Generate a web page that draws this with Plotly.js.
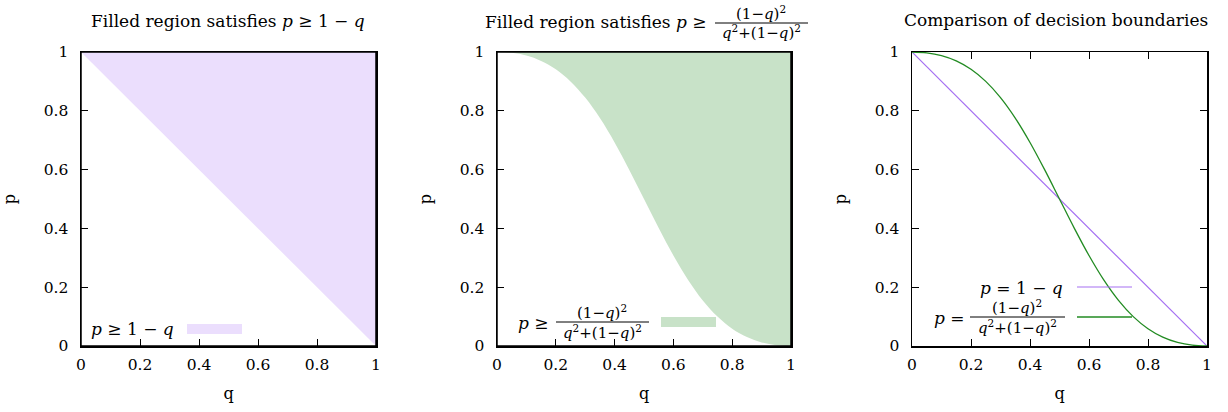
<!DOCTYPE html>
<html>
<head>
<meta charset="utf-8">
<script src="https://cdn.plot.ly/plotly-3.0.1.min.js"></script>
<style>html,body{margin:0;padding:0;background:#fff;}#chart{width:1228px;height:412px;}</style>
</head>
<body>
<div id="chart"></div>
<script>
// ---- data ----
const tickVals = [0, 0.2, 0.4, 0.6, 0.8, 1];
const tickText = ["0", "0.2", "0.4", "0.6", "0.8", "1"];
// linear boundary p = 1 - q
const qLinear = [0, 1];
const pLinear = [1, 0];
// curved boundary p = (1-q)^2 / (q^2 + (1-q)^2)
const qCurve = [0, 0.05, 0.10, 0.15, 0.20, 0.25, 0.30, 0.35, 0.40, 0.45, 0.50,
                0.55, 0.60, 0.65, 0.70, 0.75, 0.80, 0.85, 0.90, 0.95, 1.00];
const pCurve = [1, 0.99724, 0.98780, 0.96980, 0.94118, 0.9, 0.84483, 0.77523, 0.69231, 0.59901, 0.5,
                0.40099, 0.30769, 0.22477, 0.15517, 0.1, 0.05882, 0.03020, 0.01220, 0.00276, 0];
// upper edge of filled regions
const qTop = [0, 1];
const pTop = [1, 1];

// ---- styling ----
const W = 1228, H = 412;
const px = x => x / W;
const py = y => 1 - y / H;
const FONT = "DejaVu Serif, Liberation Serif, serif";
const purpleLine = "rgb(165,112,242)";
const purpleFill = "rgb(235,222,253)";
const greenLine = "rgb(34,139,34)";
const greenFill = "rgb(200,226,200)";
const TICK = 15.5, TITLE = 17, FRAC = 15;

function xAx(dom, anchor, layer) {
  return {
    domain: dom, anchor: anchor, range: [0, 1], tickvals: tickVals, ticktext: tickText,
    ticks: "inside", ticklen: 7, tickwidth: 1, tickcolor: "#000",
    showline: true, linecolor: "#000", linewidth: 1.5, mirror: "ticks",
    showgrid: false, zeroline: false, layer: layer, automargin: false, fixedrange: true,
    ticklabelstandoff: 4,
    tickfont: {family: FONT, size: TICK, color: "#000"},
    title: {text: "q", font: {family: FONT, size: 16, color: "#000"}, standoff: 14}
  };
}
function yAx(anchor, layer) {
  return {
    domain: [1 - 346 / H, 1 - 52 / H], anchor: anchor, range: [0, 1], tickvals: tickVals, ticktext: tickText,
    ticks: "inside", ticklen: 7, tickwidth: 1, tickcolor: "#000",
    showline: true, linecolor: "#000", linewidth: 1.5, mirror: "ticks",
    showgrid: false, zeroline: false, layer: layer, automargin: false, fixedrange: true,
    ticklabelstandoff: 8,
    tickfont: {family: FONT, size: TICK, color: "#000"},
    title: {text: "p", font: {family: FONT, size: 16, color: "#000"}, standoff: 24}
  };
}

const traces = [
  // panel 1
  {x: qLinear, y: pLinear, xaxis: "x", yaxis: "y", mode: "lines", line: {width: 0, color: "rgba(0,0,0,0)"}, hoverinfo: "skip"},
  {x: qTop, y: pTop, xaxis: "x", yaxis: "y", mode: "lines", line: {width: 0, color: "rgba(0,0,0,0)"}, fill: "tonexty", fillcolor: purpleFill, hoverinfo: "skip"},
  // panel 2
  {x: qCurve, y: pCurve, xaxis: "x2", yaxis: "y2", mode: "lines", line: {width: 0, shape: "spline", color: "rgba(0,0,0,0)"}, hoverinfo: "skip"},
  {x: qTop, y: pTop, xaxis: "x2", yaxis: "y2", mode: "lines", line: {width: 0, color: "rgba(0,0,0,0)"}, fill: "tonexty", fillcolor: greenFill, hoverinfo: "skip"},
  // panel 3
  {x: qLinear, y: pLinear, xaxis: "x3", yaxis: "y3", mode: "lines", line: {width: 1.2, color: purpleLine}, hoverinfo: "skip"},
  {x: qCurve, y: pCurve, xaxis: "x3", yaxis: "y3", mode: "lines", line: {width: 1.3, color: greenLine, shape: "spline"}, hoverinfo: "skip"}
];

function txt(text, x, y, size, xanchor) {
  return {text: text, x: px(x), y: py(y), xref: "paper", yref: "paper", showarrow: false,
          xanchor: xanchor || "center", yanchor: "middle", font: {family: FONT, size: size, color: "#000"}};
}
function bar(x0, x1, y) {
  return {type: "line", xref: "paper", yref: "paper", x0: px(x0), x1: px(x1), y0: py(y), y1: py(y),
          line: {color: "#000", width: 1}, layer: "above"};
}
function border(xr, yr) {
  return {type: "rect", xref: xr + " domain", yref: yr + " domain", x0: 0, x1: 1, y0: 0, y1: 1,
          line: {color: "#000", width: 1.5}, layer: "above"};
}
const num = "(1−<i>q</i>)<sup>2</sup>";
const den = "<i>q</i><sup>2</sup>+(1−<i>q</i>)<sup>2</sup>";

const annotations = [
  // titles
  txt("Filled region satisfies <i>p</i> ≥ 1 − <i>q</i>", 228, 21, TITLE),
  txt("Filled region satisfies <i>p</i> ≥", 708, 22, TITLE, "right"),
  txt(num, 761, 13, FRAC), txt(den, 761, 32, FRAC),
  txt("Comparison of decision boundaries", 1056, 20, TITLE),
  // legend panel 1
  txt("<i>p</i> ≥ 1 − <i>q</i>", 176, 329, TITLE, "right"),
  // legend panel 2
  txt("<i>p</i> ≥", 551, 323, TITLE, "right"),
  txt(num, 602, 312, FRAC), txt(den, 602, 332, FRAC),
  // legend panel 3
  txt("<i>p</i> = 1 − <i>q</i>", 1065, 288, TITLE, "right"),
  txt("<i>p</i> =", 967, 318, TITLE, "right"),
  txt(num, 1017, 307, FRAC), txt(den, 1017, 327, FRAC)
];

const shapes = [
  border("x", "y"), border("x2", "y2"),
  bar(715, 808, 23), bar(556, 649, 322), bar(970, 1065, 317),
  {type: "rect", xref: "paper", yref: "paper", x0: px(187), x1: px(242), y0: py(334), y1: py(324), fillcolor: purpleFill, line: {width: 0}},
  {type: "rect", xref: "paper", yref: "paper", x0: px(661), x1: px(716), y0: py(327), y1: py(317), fillcolor: greenFill, line: {width: 0}},
  {type: "line", xref: "paper", yref: "paper", x0: px(1077), x1: px(1132), y0: py(287), y1: py(287), line: {color: purpleLine, width: 1.2}},
  {type: "line", xref: "paper", yref: "paper", x0: px(1077), x1: px(1132), y0: py(317), y1: py(317), line: {color: greenLine, width: 1.3}}
];

const layout = {
  width: W, height: H, margin: {l: 0, r: 0, t: 0, b: 0},
  paper_bgcolor: "#fff", plot_bgcolor: "#fff", showlegend: false,
  xaxis: xAx([81 / W, 376 / W], "y", "below traces"),
  yaxis: yAx("x", "below traces"),
  xaxis2: xAx([497 / W, 791 / W], "y2", "below traces"),
  yaxis2: yAx("x2", "below traces"),
  xaxis3: xAx([912 / W, 1207 / W], "y3", "above traces"),
  yaxis3: yAx("x3", "above traces"),
  annotations: annotations, shapes: shapes
};

Plotly.newPlot("chart", traces, layout, {staticPlot: true, displayModeBar: false});
</script>
</body>
</html>
